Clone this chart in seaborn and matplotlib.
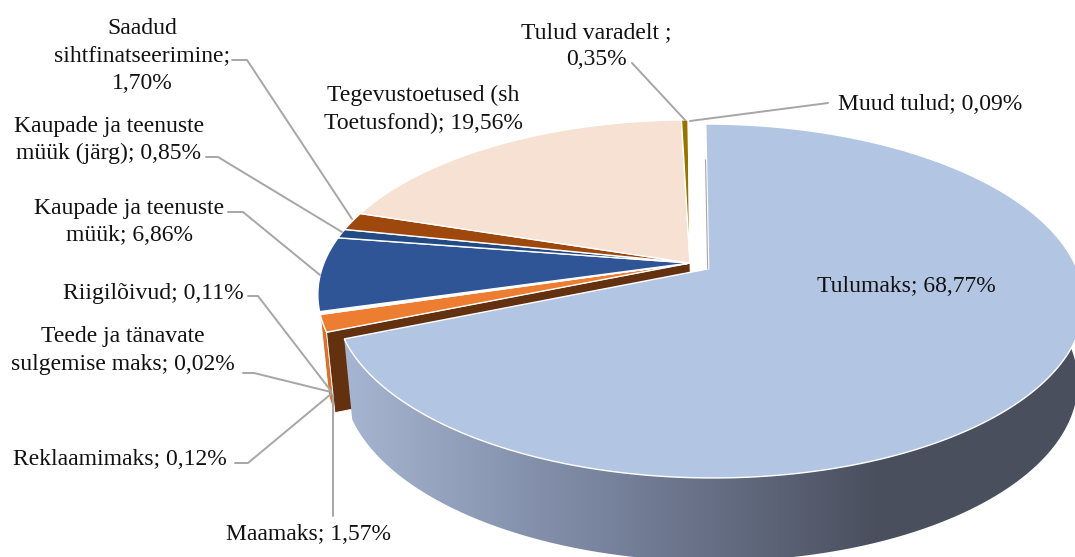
import numpy as np
import seaborn as sns
import matplotlib
matplotlib.use('Agg')
import matplotlib.pyplot as plt
from matplotlib.patches import Polygon
from matplotlib.path import Path
from matplotlib.transforms import Affine2D, Transform

# ── Data ─────────────────────────────────────────────────────────────────
categories = ['Tulumaks', 'Maamaks', 'Reklaamimaks', 'Teede ja tänavate sulgemise maks',
              'Riigilõivud', 'Kaupade ja teenuste müük', 'Kaupade ja teenuste müük (järg)',
              'Saadud sihtfinatseerimine', 'Tegevustoetused (sh Toetusfond)',
              'Tulud varadelt', 'Muud tulud']
values = [68.77, 1.57, 0.12, 0.02, 0.11, 6.86, 0.85, 1.70, 19.56, 0.35, 0.09]
colors = ['#B2C6E4', '#ED7D31', '#FFFFFF', '#FFFFFF', '#FFFFFF', '#2F5597',
          '#234A82', '#9E480E', '#F7E1D3', '#997300', '#FFFFFF']
label_texts = ['Tulumaks; 68,77%', 'Maamaks; 1,57%', 'Reklaamimaks; 0,12%',
               'Teede ja tänavate\nsulgemise maks; 0,02%', 'Riigilõivud; 0,11%',
               'Kaupade ja teenuste\nmüük; 6,86%', 'Kaupade ja teenuste\nmüük (järg); 0,85%',
               'Saadud\nsihtfinatseerimine;\n1,70%', 'Tegevustoetused (sh\nToetusfond); 19,56%',
               'Tulud varadelt ;\n0,35%', 'Muud tulud; 0,09%']
label_x = [906, 309, 120, 123, 153, 129, 109, 142, 423, 596, 930]
label_y = [286, 534, 459.5, 350.5, 293, 222, 140, 56, 109.5, 46, 104]
leaders = [None,
           [(333, 395), (333, 516)],
           [(235, 463), (248, 463), (331, 394)],
           [(243, 373), (254, 373), (331, 392)],
           [(248, 296), (258, 296), (331, 391)],
           [(228, 212), (243, 212), (320, 275)],
           [(206, 157), (218, 157), (342, 232)],
           [(232, 60), (247, 60), (352, 219)],
           None,
           [(632, 63), (685, 120)],
           [(828, 103), (690, 121)]]

# view of the tilted pie, in pixels
cx, cy = 690, 263
rx, ry = 366, 169
tilt = 0.181
depth, shrink_x, shrink_y, shift_x = 79, 0.981, 1.02, 1.4


def project(u, v, low=False):
    d = 1 + tilt * v
    x, y = rx * u / d, -ry * v / d
    if low:
        x, y = x * shrink_x + shift_x, y * shrink_y + depth
    return cx + x, cy + y


class TiltTransform(Transform):
    input_dims = output_dims = 2
    is_separable = False

    def transform_non_affine(self, values):
        v = np.asarray(values, dtype=float)
        return np.column_stack(project(v[:, 0], v[:, 1]))

    def transform_path_non_affine(self, path):
        polys = path.to_polygons(Affine2D().scale(3000), closed_only=True)
        return Path(self.transform_non_affine(polys[0] / 3000))


def ring(w, t1, t2, low=False):
    th = np.radians(np.linspace(t1, t2, 200))
    return np.column_stack(project(w.center[0] + w.r * np.cos(th),
                                   w.center[1] + w.r * np.sin(th), low))


def outer_wall(w):
    t1, t2 = w.theta1, min(w.theta2, 25) if w.theta1 < 0 else w.theta2
    return np.vstack([ring(w, t1, t2), ring(w, t1, t2, True)[::-1]])


def radial_wall(w, t):
    a = np.radians(t)
    ends_u = np.array([w.center[0] + w.r * np.cos(a), w.center[0]])
    ends_v = np.array([w.center[1] + w.r * np.sin(a), w.center[1]])
    return np.vstack([np.column_stack(project(ends_u, ends_v)),
                      np.column_stack(project(ends_u, ends_v, True))[::-1]])


sns.set_theme(style='white')
plt.rcParams['font.family'] = ['Liberation Serif', 'DejaVu Serif']

fig = plt.figure(figsize=(10.75, 5.57), dpi=100)
ax = fig.add_axes([0, 0, 1, 1])

explode = [0.061] + [0] * (len(values) - 1)
wedges, _ = ax.pie(values, colors=sns.color_palette(colors), explode=explode, startangle=90,
                   counterclock=False, wedgeprops={'edgecolor': 'white', 'linewidth': 1.0})
ax.set_aspect('auto')
ax.set_xlim(0, 1075)
ax.set_ylim(557, 0)
ax.axis('off')

tilted = TiltTransform() + ax.transData
for w in wedges:
    w.set_transform(tilted)
    w.set_zorder(3)
wedges[0].set_zorder(6)

# walls of the slices behind Tulumaks
maamaks = wedges[1]
ax.add_patch(Polygon(outer_wall(maamaks), closed=True, fc='#D6722C', ec='white', lw=0.6, zorder=2))
ax.add_patch(Polygon(radial_wall(maamaks, maamaks.theta2), closed=True, fc='#63310F',
                     ec='white', lw=0.6, zorder=2.5))

# wall of Tulumaks with the dark shading to the right
wall = Polygon(outer_wall(wedges[0]), closed=True, fc='none', ec='none', zorder=5)
ax.add_patch(wall)
shade = sns.blend_palette(['#A5B4D0', '#76819B', '#4A4F5E'], as_cmap=True)
grad_x = np.linspace(0, 1075, 540)
im = ax.imshow(np.clip((grad_x - 350) / 530, 0, 1)[None, :], cmap=shade, vmin=0, vmax=1,
               extent=(0, 1075, 557, 0), aspect='auto', zorder=5)
im.set_clip_path(wall)
ax.set_xlim(0, 1075)
ax.set_ylim(557, 0)

# thin inner edge next to the gap at the top of Tulumaks
top = wedges[0]
edge_u = np.array([top.center[0], top.center[0]])
edge_v = top.center[1] + np.array([0.0, 0.72])
ex, ey = project(edge_u, edge_v)
ax.plot(ex - 1, ey, color='#A6A6A6', lw=0.8, zorder=7)

for txt, x, y, line in zip(label_texts, label_x, label_y, leaders):
    ax.text(x, y, txt, ha='center', va='center', fontsize=17, color='#111111',
            linespacing=1.4, zorder=9)
    if line is not None:
        ax.plot(*zip(*line), color='#A6A6A6', lw=1.4, zorder=8)

fig.savefig('out.png', dpi=100)
